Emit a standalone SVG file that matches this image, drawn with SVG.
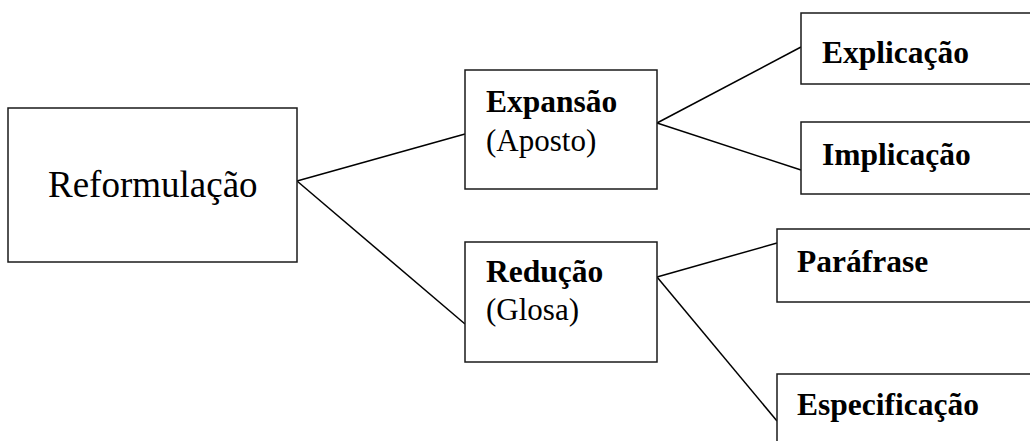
<svg xmlns="http://www.w3.org/2000/svg" width="1030" height="441" viewBox="0 0 1030 441">
<style>
.box{fill:#fff;stroke:#1a1a1a;stroke-width:1.5}
.ln{stroke:#000;stroke-width:1.5;fill:none}
text{font-family:"Liberation Serif","Times New Roman",serif;fill:#000}
.b{font-weight:bold;font-size:31.5px}
.r{font-size:31px}
</style>
<rect width="1030" height="441" fill="#fff"/>
<g id="connectors">
<line class="ln" x1="297" y1="181" x2="465" y2="134"/>
<line class="ln" x1="297" y1="181" x2="465" y2="324"/>
<line class="ln" x1="657" y1="123" x2="801" y2="47"/>
<line class="ln" x1="657" y1="123" x2="801" y2="170"/>
<line class="ln" x1="657" y1="277" x2="777" y2="243"/>
<line class="ln" x1="657" y1="277" x2="777" y2="421"/>
</g>
<g id="reformulacao">
<rect class="box" x="8" y="108" width="289" height="154"/>
<text x="48" y="197" font-size="37">Reformulação</text>
</g>
<g id="expansao">
<rect class="box" x="465" y="70" width="192" height="119"/>
<text class="b" x="486" y="112">Expansão</text>
<text class="r" x="486" y="151">(Aposto)</text>
</g>
<g id="reducao">
<rect class="box" x="465" y="242" width="192" height="120"/>
<text class="b" x="486" y="282">Redução</text>
<text class="r" x="486" y="320">(Glosa)</text>
</g>
<g id="explicacao">
<rect class="box" x="801" y="13" width="240" height="71"/>
<text class="b" x="822" y="63">Explicação</text>
</g>
<g id="implicacao">
<rect class="box" x="801" y="122" width="240" height="72"/>
<text class="b" x="822" y="165">Implicação</text>
</g>
<g id="parafrase">
<rect class="box" x="777" y="229" width="260" height="73"/>
<text class="b" x="797" y="272">Paráfrase</text>
</g>
<g id="especificacao">
<rect class="box" x="777" y="374" width="260" height="80"/>
<text class="b" x="797" y="415">Especificação</text>
</g>
</svg>
